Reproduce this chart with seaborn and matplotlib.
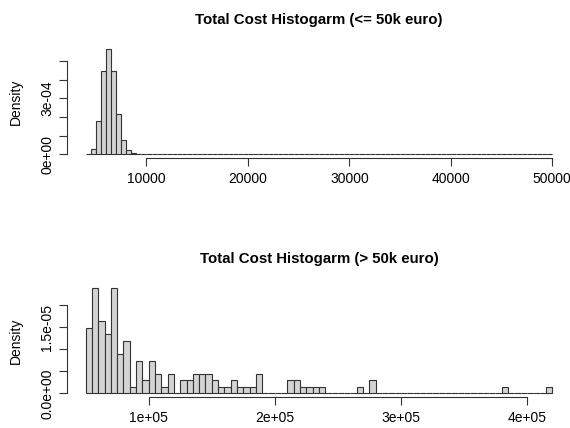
import numpy as np
import pandas as pd
import matplotlib
matplotlib.use('Agg')
import matplotlib.pyplot as plt
import seaborn as sns

# total cost <= 50k euro, bin width 500 (left edge of bin, number of cases)
low_bin_left = [4000, 4500, 5000, 5500, 6000, 6500, 7000, 7500, 8000, 8500, 9000, 9500,
                10500, 11000, 12000, 13500, 15000, 17000, 19500, 22000, 24000, 49500]
low_counts = [1, 28, 180, 446, 566, 446, 217, 75, 23, 7, 3, 2,
              1, 1, 1, 1, 1, 1, 1, 1, 1, 1]

# total cost > 50k euro, bin width 5000
high_bin_left = [50000, 55000, 60000, 65000, 70000, 75000, 80000, 85000, 90000, 95000,
                 100000, 105000, 110000, 115000, 125000, 130000, 135000, 140000, 145000,
                 150000, 155000, 160000, 165000, 170000, 175000, 180000, 185000,
                 210000, 215000, 220000, 225000, 230000, 235000, 265000, 275000,
                 380000, 415000]
high_counts = [10, 16, 11, 9, 16, 6, 8, 1, 5, 2,
               5, 3, 1, 3, 2, 2, 3, 3, 3,
               2, 1, 1, 2, 1, 1, 1, 3,
               2, 2, 1, 1, 1, 1, 1, 2,
               1, 1]

low_xticks = [10000, 20000, 30000, 40000, 50000]
low_xlabels = ['10000', '20000', '30000', '40000', '50000']
low_yticks = [0, 1e-4, 2e-4, 3e-4, 4e-4, 5e-4]
low_ylabels = ['0e+00', '', '', '3e-04', '', '']

high_xticks = [100000, 200000, 300000, 400000]
high_xlabels = ['1e+05', '2e+05', '3e+05', '4e+05']
high_yticks = [0, 0.5e-5, 1e-5, 1.5e-5, 2e-5]
high_ylabels = ['0.0e+00', '', '', '1.5e-05', '']

sns.set_style('white')
plt.rcParams['font.family'] = ['Liberation Sans', 'DejaVu Sans']
plt.rcParams['text.color'] = 'black'
plt.rcParams['axes.labelcolor'] = 'black'

fig = plt.figure(figsize=(5.7, 4.28), dpi=100)
ax1 = fig.add_axes([0.1175, 0.6297, 0.884, 0.2659])
ax2 = fig.add_axes([0.1175, 0.0713, 0.884, 0.2647])


def r_hist(ax, left, counts, width, lo, hi, title, xt, xl, yt, yl):
    df = pd.DataFrame({'cost': np.array(left) + width / 2, 'n': counts})
    sns.histplot(data=df, x='cost', weights='n', binwidth=width, binrange=(lo, hi),
                 stat='density', color='#D3D3D3', edgecolor='#333333', linewidth=0.8,
                 alpha=1, ax=ax)
    ymax = max(p.get_height() for p in ax.patches)
    pad = (hi - lo) * 0.04
    ax.set_xlim(lo - pad, hi + pad)
    ax.set_ylim(-0.04 * ymax, 1.04 * ymax)
    ax.set_xticks(xt, xl)
    ax.set_yticks(yt, yl)
    for lab in ax.get_yticklabels():
        lab.set_rotation(90)
        lab.set_va('center')
    ax.tick_params(axis='both', direction='out', length=6, width=0.8, color='#333333',
                   labelsize=10, labelcolor='black', bottom=True, left=True)
    ax.tick_params(axis='x', pad=3.5)
    ax.tick_params(axis='y', pad=3)
    for side in ['top', 'right']:
        ax.spines[side].set_visible(False)
    for side in ['left', 'bottom']:
        ax.spines[side].set_color('#333333')
        ax.spines[side].set_linewidth(0.8)
    ax.spines['bottom'].set_bounds(xt[0], xt[-1])
    ax.spines['left'].set_bounds(yt[0], yt[-1])
    ax.set_xlabel('')
    ax.set_ylabel('Density', fontsize=10, labelpad=13)
    ax.set_title(title, fontsize=10.8, fontweight='bold', pad=15)


r_hist(ax1, low_bin_left, low_counts, 500, 4000, 50000,
       'Total Cost Histogarm (<= 50k euro)', low_xticks, low_xlabels, low_yticks, low_ylabels)
r_hist(ax2, high_bin_left, high_counts, 5000, 50000, 420000,
       'Total Cost Histogarm (> 50k euro)', high_xticks, high_xlabels, high_yticks, high_ylabels)

fig.savefig('out.png', dpi=100)
